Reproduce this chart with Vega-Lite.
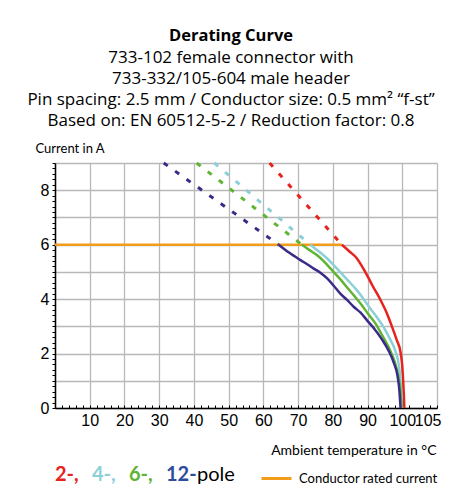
{
  "$schema": "https://vega.github.io/schema/vega-lite/v6.json",
  "width": 382,
  "height": 245,
  "autosize": {"type": "none"},
  "padding": {"top": 163, "left": 55, "right": 25, "bottom": 96},
  "background": "white",
  "config": {"view": {"stroke": null}},
  "title": {
    "text": "Derating Curve",
    "subtitle": ["733-102 female connector with", "733-332/105-604 male header", "Pin spacing: 2.5 mm / Conductor size: 0.5 mm² “f-st”", "Based on: EN 60512-5-2 / Reduction factor: 0.8"],
    "anchor": "middle",
    "frame": "group",
    "dx": -15,
    "offset": 13,
    "font": "Open Sans",
    "fontSize": 16.5,
    "fontWeight": "bold",
    "color": "#000000",
    "subtitleFont": "Open Sans",
    "subtitleFontSize": 17,
    "subtitleColor": "#000000",
    "subtitleLineHeight": 21,
    "subtitlePadding": 6
  },
  "datasets": {
    "curves": [
      {"pole": "2-,", "part": "dashed", "t": 61.8, "i": 9},
      {"pole": "2-,", "part": "dashed", "t": 82.6, "i": 6},
      {"pole": "2-,", "part": "solid", "t": 82.6, "i": 6},
      {"pole": "2-,", "part": "solid", "t": 84.8, "i": 5.75},
      {"pole": "2-,", "part": "solid", "t": 86.9, "i": 5.5},
      {"pole": "2-,", "part": "solid", "t": 88.4, "i": 5.2},
      {"pole": "2-,", "part": "solid", "t": 89.8, "i": 4.89},
      {"pole": "2-,", "part": "solid", "t": 91.4, "i": 4.5},
      {"pole": "2-,", "part": "solid", "t": 93.6, "i": 4.0},
      {"pole": "2-,", "part": "solid", "t": 95.5, "i": 3.5},
      {"pole": "2-,", "part": "solid", "t": 97.0, "i": 3.0},
      {"pole": "2-,", "part": "solid", "t": 98.4, "i": 2.5},
      {"pole": "2-,", "part": "solid", "t": 99.5, "i": 2.05},
      {"pole": "2-,", "part": "solid", "t": 99.95, "i": 1.6},
      {"pole": "2-,", "part": "solid", "t": 100.25, "i": 1.0},
      {"pole": "2-,", "part": "solid", "t": 100.45, "i": 0.5},
      {"pole": "2-,", "part": "solid", "t": 100.6, "i": 0},
      {"pole": "4-,", "part": "dashed", "t": 45.9, "i": 9},
      {"pole": "4-,", "part": "dashed", "t": 73.5, "i": 6},
      {"pole": "4-,", "part": "solid", "t": 73.5, "i": 6},
      {"pole": "4-,", "part": "solid", "t": 76.0, "i": 5.75},
      {"pole": "4-,", "part": "solid", "t": 78.3, "i": 5.5},
      {"pole": "4-,", "part": "solid", "t": 80.6, "i": 5.2},
      {"pole": "4-,", "part": "solid", "t": 82.8, "i": 4.9},
      {"pole": "4-,", "part": "solid", "t": 85.0, "i": 4.6},
      {"pole": "4-,", "part": "solid", "t": 86.9, "i": 4.33},
      {"pole": "4-,", "part": "solid", "t": 88.6, "i": 4.05},
      {"pole": "4-,", "part": "solid", "t": 90.5, "i": 3.7},
      {"pole": "4-,", "part": "solid", "t": 92.6, "i": 3.35},
      {"pole": "4-,", "part": "solid", "t": 94.5, "i": 3.0},
      {"pole": "4-,", "part": "solid", "t": 96.4, "i": 2.55},
      {"pole": "4-,", "part": "solid", "t": 98.0, "i": 2.1},
      {"pole": "4-,", "part": "solid", "t": 99.1, "i": 1.5},
      {"pole": "4-,", "part": "solid", "t": 99.6, "i": 0.8},
      {"pole": "4-,", "part": "solid", "t": 99.9, "i": 0},
      {"pole": "6-,", "part": "dashed", "t": 40.8, "i": 9},
      {"pole": "6-,", "part": "dashed", "t": 71.1, "i": 6},
      {"pole": "6-,", "part": "solid", "t": 71.1, "i": 6},
      {"pole": "6-,", "part": "solid", "t": 73.3, "i": 5.8},
      {"pole": "6-,", "part": "solid", "t": 75.4, "i": 5.62},
      {"pole": "6-,", "part": "solid", "t": 77.5, "i": 5.38},
      {"pole": "6-,", "part": "solid", "t": 79.5, "i": 5.1},
      {"pole": "6-,", "part": "solid", "t": 82.0, "i": 4.75},
      {"pole": "6-,", "part": "solid", "t": 84.3, "i": 4.4},
      {"pole": "6-,", "part": "solid", "t": 86.3, "i": 4.1},
      {"pole": "6-,", "part": "solid", "t": 88.2, "i": 3.8},
      {"pole": "6-,", "part": "solid", "t": 90.2, "i": 3.45},
      {"pole": "6-,", "part": "solid", "t": 92.3, "i": 3.1},
      {"pole": "6-,", "part": "solid", "t": 94.3, "i": 2.65},
      {"pole": "6-,", "part": "solid", "t": 96.2, "i": 2.2},
      {"pole": "6-,", "part": "solid", "t": 97.8, "i": 1.7},
      {"pole": "6-,", "part": "solid", "t": 98.9, "i": 1.15},
      {"pole": "6-,", "part": "solid", "t": 99.5, "i": 0.6},
      {"pole": "6-,", "part": "solid", "t": 99.8, "i": 0},
      {"pole": "12-", "part": "dashed", "t": 31.3, "i": 9},
      {"pole": "12-", "part": "dashed", "t": 64.4, "i": 6},
      {"pole": "12-", "part": "solid", "t": 64.4, "i": 6},
      {"pole": "12-", "part": "solid", "t": 67.5, "i": 5.7},
      {"pole": "12-", "part": "solid", "t": 70.6, "i": 5.44},
      {"pole": "12-", "part": "solid", "t": 72.6, "i": 5.28},
      {"pole": "12-", "part": "solid", "t": 74.4, "i": 5.13},
      {"pole": "12-", "part": "solid", "t": 76.4, "i": 4.97},
      {"pole": "12-", "part": "solid", "t": 78.3, "i": 4.77},
      {"pole": "12-", "part": "solid", "t": 80.2, "i": 4.5},
      {"pole": "12-", "part": "solid", "t": 82.1, "i": 4.21},
      {"pole": "12-", "part": "solid", "t": 84.1, "i": 3.97},
      {"pole": "12-", "part": "solid", "t": 86.0, "i": 3.72},
      {"pole": "12-", "part": "solid", "t": 88.0, "i": 3.5},
      {"pole": "12-", "part": "solid", "t": 89.8, "i": 3.23},
      {"pole": "12-", "part": "solid", "t": 91.7, "i": 2.95},
      {"pole": "12-", "part": "solid", "t": 94.0, "i": 2.55},
      {"pole": "12-", "part": "solid", "t": 96.1, "i": 2.1},
      {"pole": "12-", "part": "solid", "t": 97.6, "i": 1.65},
      {"pole": "12-", "part": "solid", "t": 98.6, "i": 1.2},
      {"pole": "12-", "part": "solid", "t": 99.2, "i": 0.6},
      {"pole": "12-", "part": "solid", "t": 99.5, "i": 0}
    ],
    "rated": [
      {"kind": "Conductor rated current", "t": 0, "t2": 82.6, "i": 6}
    ]
  },
  "encoding": {
    "x": {
      "field": "t", "type": "quantitative",
      "scale": {"domain": [0, 110], "nice": false, "zero": false},
      "axis": {
        "values": [0,2,4,6,8,10,12,14,16,18,20,22,24,26,28,30,32,34,36,38,40,42,44,46,48,50,52,54,56,58,60,62,64,66,68,70,72,74,76,78,80,82,84,86,88,90,92,94,96,98,100,102,105,106,108,110],
        "labelExpr": "(datum.value >= 10 && datum.value <= 100 && datum.value % 10 === 0) || datum.value === 105 ? datum.label : ''",
        "labelOffset": {"condition": {"test": "datum.value === 105", "value": 8}, "value": 0},
        "labelOverlap": false,
        "labelFlush": false,
        "labelFont": "Liberation Sans Narrow, Liberation Sans",
        "labelFontSize": 16,
        "labelColor": "#000000",
        "labelPadding": 7,
        "tickSize": -3,
        "tickColor": "#000000",
        "tickWidth": 1,
        "tickOpacity": {"condition": {"test": "datum.value === 105", "value": 0}, "value": 1},
        "domainColor": "#000000",
        "domainWidth": 1.5,
        "grid": true,
        "gridWidth": 1.3,
        "gridColor": {"condition": {"test": "datum.value % 10 === 0", "value": "#b8b8b8"}, "value": "transparent"},
        "title": "Ambient temperature in °C",
        "titleFont": "Lato",
        "titleFontSize": 14,
        "titleFontWeight": "normal",
        "titleColor": "#000000",
        "titleAlign": "right",
        "titleBaseline": "alphabetic",
        "titleX": 381,
        "titleY": 46
      }
    },
    "y": {
      "field": "i", "type": "quantitative",
      "scale": {"domain": [0, 9], "nice": false},
      "axis": {
        "values": [0,0.2,0.4,0.6,0.8,1,1.2,1.4,1.6,1.8,2,2.2,2.4,2.6,2.8,3,3.2,3.4,3.6,3.8,4,4.2,4.4,4.6,4.8,5,5.2,5.4,5.6,5.8,6,6.2,6.4,6.6,6.8,7,7.2,7.4,7.6,7.8,8,8.2,8.4,8.6,8.8,9],
        "labelExpr": "datum.value % 2 === 0 && datum.value <= 8 ? format(datum.value, 'd') : ''",
        "labelOverlap": false,
        "labelFlush": false,
        "labelFont": "Liberation Sans Narrow, Liberation Sans",
        "labelFontSize": 16,
        "labelColor": "#000000",
        "labelPadding": 3,
        "tickSize": 3,
        "tickColor": "#000000",
        "tickWidth": 1,
        "domainColor": "#000000",
        "domainWidth": 1.5,
        "grid": true,
        "gridWidth": 1.3,
        "gridColor": {"condition": {"test": "datum.value % 1 === 0", "value": "#b8b8b8"}, "value": "transparent"},
        "title": "Current in A",
        "titleFont": "Lato",
        "titleFontSize": 13,
        "titleFontWeight": "normal",
        "titleColor": "#000000",
        "titleAngle": 0,
        "titleAlign": "left",
        "titleBaseline": "alphabetic",
        "titleX": -20,
        "titleY": -11
      }
    }
  },
  "layer": [
    {
      "data": {"name": "rated"},
      "mark": {"type": "rule", "strokeWidth": 2.5, "strokeCap": "butt"},
      "encoding": {
        "x2": {"field": "t2"},
        "color": {
          "field": "kind", "type": "nominal",
          "scale": {"domain": ["Conductor rated current"], "range": ["#f39c1a"]},
          "legend": {
            "orient": "none", "legendX": 205, "legendY": 299, "title": null,
            "symbolType": "stroke", "symbolSize": 900, "symbolStrokeWidth": 3,
            "labelFont": "Lato", "labelFontSize": 13, "labelColor": "#000000", "labelOffset": 6, "padding": 0
          }
        }
      }
    },
    {
      "data": {"name": "curves"},
      "encoding": {
        "color": {
          "field": "pole", "type": "nominal",
          "scale": {"domain": ["2-,", "4-,", "6-,", "12-"], "range": ["#e6231d", "#8cd0d7", "#5fb433", "#3b2a88"]},
          "legend": {
            "orient": "none", "legendX": 0, "legendY": 302, "direction": "horizontal",
            "title": "pole", "titleOrient": "right", "titleFont": "Lato", "titleFontSize": 20,
            "titleFontWeight": "normal", "titleColor": "#000000", "titlePadding": 0,
            "symbolType": "circle", "symbolSize": 0, "symbolOpacity": 0, "symbolStrokeWidth": 0,
            "labelOffset": -20, "columnPadding": 13, "padding": 0,
            "labelFont": "Lato", "labelFontSize": 20, "labelFontWeight": "bold",
            "encode": {"labels": {"update": {"fill": {"signal": "datum.value === '2-,' ? '#e6231d' : datum.value === '4-,' ? '#8cd0d7' : datum.value === '6-,' ? '#5fb433' : '#2b4d9c'"}}}}
          }
        }
      },
      "layer": [
        {
          "transform": [{"filter": "datum.part === 'dashed'"}],
          "mark": {"type": "line", "strokeWidth": 3, "strokeDash": [5, 9], "strokeCap": "butt"}
        },
        {
          "transform": [{"filter": "datum.part === 'solid'"}],
          "mark": {"type": "line", "strokeWidth": 2.5, "interpolate": "monotone"}
        }
      ]
    }
  ],
  "resolve": {"scale": {"color": "independent"}}
}
